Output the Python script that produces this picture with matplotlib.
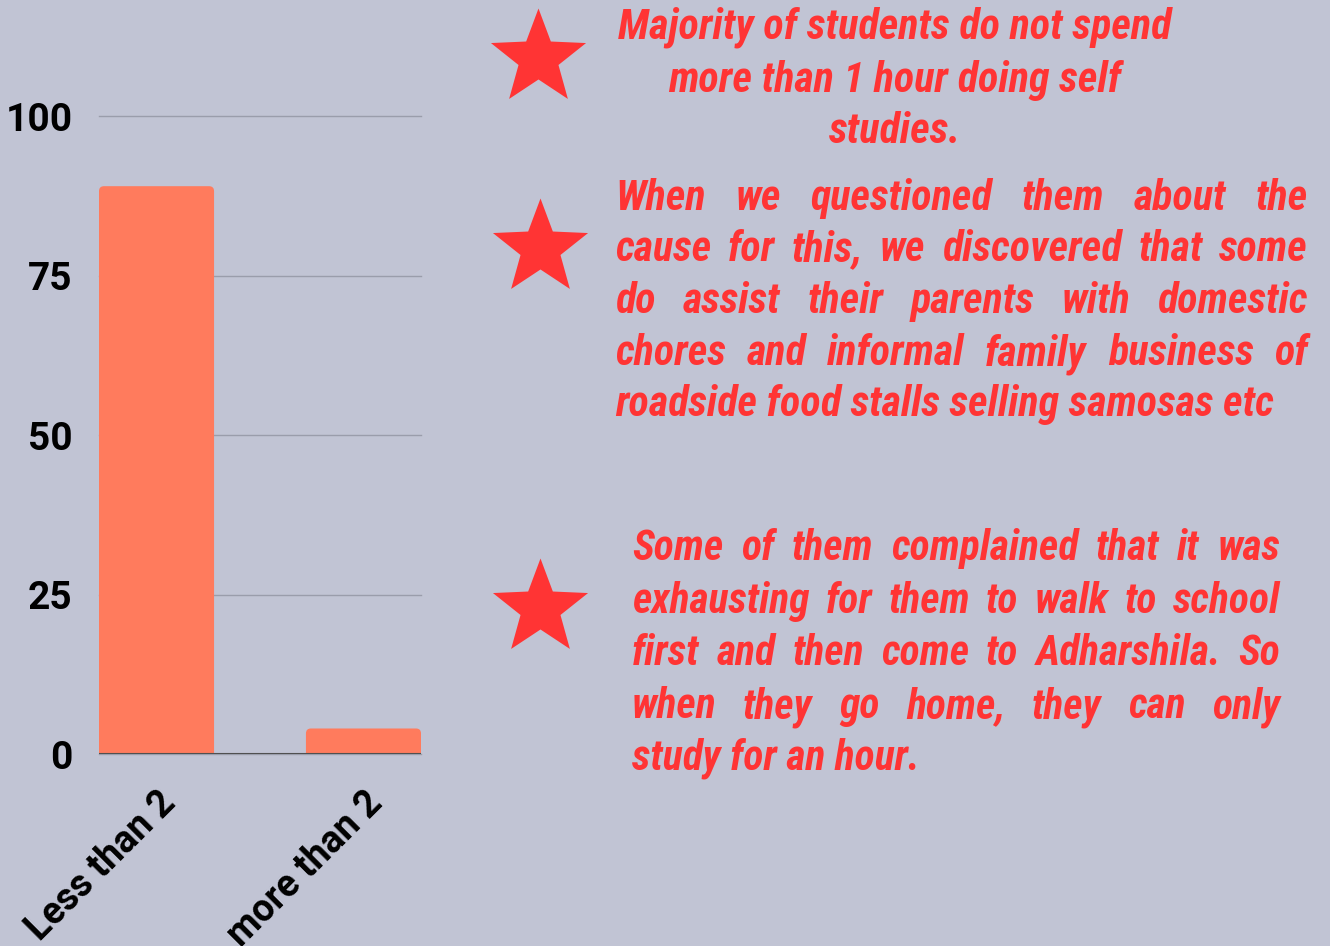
import matplotlib
matplotlib.use('Agg')
import matplotlib.pyplot as plt
import matplotlib.path as mpath
import matplotlib.transforms as mtransforms
from matplotlib.patches import FancyBboxPatch
from matplotlib import font_manager

# chart data
categories = ['Less than 2', 'more than 2']
counts = [89, 4]
y_ticks = [0, 25, 50, 75, 100]

# notes on the right (one entry per printed line)
note_1 = ['Majority of students do not spend',
          'more than 1 hour doing self',
          'studies.']
note_2 = ['When we questioned them about the',
          'cause for this, we discovered that some',
          'do assist their parents with domestic',
          'chores and informal family business of',
          'roadside food stalls selling samosas etc']
note_3 = ['Some of them complained that it was',
          'exhausting for them to walk to school',
          'first and then come to Adharshila. So',
          'when they go home, they can only',
          'study for an hour.']

BG = '#c1c4d4'
BAR = '#ff7b5d'
RED = '#ff3434'

installed = {f.name for f in font_manager.fontManager.ttflist}
body_font = next(f for f in ['Roboto Condensed', 'Roboto', 'DejaVu Sans'] if f in installed)
label_font = 'Roboto' if 'Roboto' in installed else 'DejaVu Sans'

W, H = 1330, 946
fig = plt.figure(figsize=(W / 100, H / 100), dpi=100, facecolor=BG)

# bar chart
ax = fig.add_axes([99 / W, 192 / H, 322 / W, 638 / H])
ax.set_facecolor(BG)
bars = ax.bar(range(len(categories)), counts, width=0.556, color=BAR, zorder=2)
ax.set_xlim(-0.278, 1.278)
ax.set_ylim(0, 100)

# swap the plain rectangles for ones with softly rounded tops
px_x = 322 / 1.556
px_y = 638 / 100
for rect in bars:
    rect.set_visible(False)
    r = 5 / px_x
    ax.add_patch(FancyBboxPatch((rect.get_x(), -2), rect.get_width(), rect.get_height() + 2,
                                boxstyle=f'round,pad=0,rounding_size={r}',
                                mutation_aspect=px_x / px_y, color=BAR, lw=0, zorder=2))

ax.set_yticks(y_ticks)
ax.grid(axis='y', color='#9a9dab', lw=1, zorder=0)
for gl in ax.get_ygridlines():
    gl.set_clip_on(False)
ax.axhline(0, color='#505050', lw=1.5, zorder=3)
for s in ax.spines.values():
    s.set_visible(False)
ax.tick_params(length=0)
ax.tick_params(axis='y', pad=19)
for lab in ax.get_yticklabels():
    lab.set_fontsize(28)
    lab.set_fontweight('bold')
    lab.set_family(label_font)
ax.set_xticks(range(len(categories)))
ax.set_xticklabels(categories, rotation=45, ha='right', va='center',
                   rotation_mode='anchor', fontsize=27, fontweight='bold',
                   family=label_font)
ax.tick_params(axis='x', pad=31)
shift = mtransforms.ScaledTranslation(13 / 100, 0, fig.dpi_scale_trans)
for lab in ax.get_xticklabels():
    lab.set_transform(lab.get_transform() + shift)

# overlay in pixel units for stars and notes
deco = fig.add_axes([0, 0, 1, 1])
deco.patch.set_alpha(0)
deco.axis('off')
deco.set_xlim(0, W)
deco.set_ylim(H, 0)

star = mpath.Path.unit_regular_star(5, 0.42)
star_x = [538, 540, 540]
star_y = [58, 248, 608]
deco.plot(star_x, star_y, ls='none', marker=star, ms=72, color=RED,
          markeredgewidth=0)

font_kw = dict(family=[body_font, 'DejaVu Sans'], fontweight='bold',
               fontstyle='italic', color=RED)
renderer = fig.canvas.get_renderer()


def text_width(s, size):
    t = deco.text(0, 0, s, fontsize=size, **font_kw)
    w = t.get_window_extent(renderer).width
    t.remove()
    return w


def fit_size(line, target):
    return 25 * target / text_width(line, 25)


def centered(lines, cx, baselines, size):
    for line, yb in zip(lines, baselines):
        deco.text(cx, yb, line, ha='center', va='baseline', fontsize=size, **font_kw)


def justified(lines, left, right, baselines, size):
    for i, (line, yb) in enumerate(zip(lines, baselines)):
        words = line.split()
        if i == len(lines) - 1:
            deco.text(left, yb, line, ha='left', va='baseline', fontsize=size, **font_kw)
            continue
        widths = [text_width(w, size) for w in words]
        gap = (right - left - sum(widths)) / (len(words) - 1)
        x = left
        for w, wd in zip(words, widths):
            deco.text(x, yb, w, ha='left', va='baseline', fontsize=size, **font_kw)
            x += wd + gap


size_1 = fit_size(note_1[0], 554)
size_2 = fit_size(note_2[-1], 660)
size_3 = fit_size(note_3[-1], 288)

centered(note_1, 895, [39, 92, 143], size_1)
justified(note_2, 615, 1308, [210, 261, 313, 365, 416], size_2)
justified(note_3, 632, 1280, [560, 613, 665, 718, 769], size_3)

fig.savefig('out.png', dpi=100, facecolor=BG)
